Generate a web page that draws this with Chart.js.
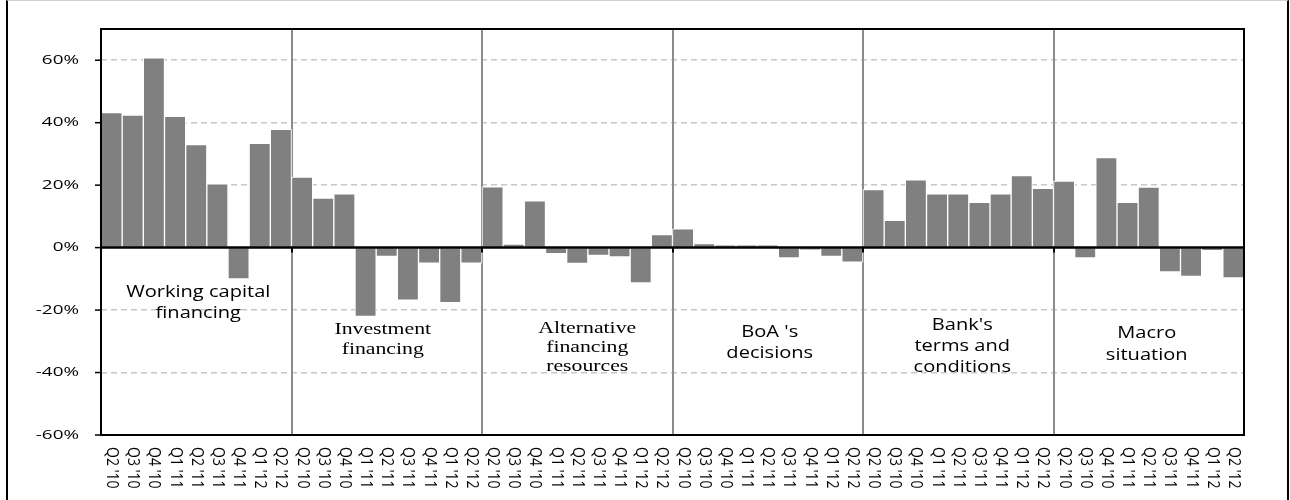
<!DOCTYPE html>
<html>
<head>
<meta charset="utf-8">
<script src="https://cdn.jsdelivr.net/npm/chart.js@4.4.1/dist/chart.umd.min.js"></script>
<style>
	body { margin: 0; background: #fff; }
	#wrap {
		position: absolute; left: 6px; top: 0;
		width: 1279px; height: 499px;
		border-left: 2px solid #000; border-right: 2px solid #000;
		border-top: 1px solid #d0d0d0;
	}
</style>
</head>
<body>
<div id="wrap"><canvas id="graficoFatores"></canvas></div>
<script>
// quarters inside every group
var quarters = ["Q2 '10", "Q3 '10", "Q4 '10", "Q1 '11", "Q2 '11", "Q3 '11", "Q4 '11", "Q1 '12", "Q2 '12"];

// group names (one line per entry)
var groupNames = [
	["Working capital", "financing"],
	["Investment", "financing"],
	["Alternative", "financing", "resources"],
	["BoA 's", "decisions"],
	["Bank's", "terms and", "conditions"],
	["Macro", "situation"]
];

// values in %
var workingCapital = [43.2, 42.4, 60.8, 42.0, 33.0, 20.4, -10.0, 33.4, 37.9];
var investment     = [22.6, 15.9, 17.2, -22.0, -2.8, -16.8, -5.0, -17.6, -5.0];
var alternative    = [19.5, 1.1, 15.0, -1.9, -5.1, -2.5, -3.0, -11.3, 4.2];
var boaDecisions   = [6.0, 1.3, 0.9, 0.9, 0.9, -3.3, -0.8, -2.8, -4.7];
var bankTerms      = [18.6, 8.7, 21.7, 17.2, 17.2, 14.5, 17.2, 23.1, 19.0];
var macroSituation = [21.3, -3.3, 28.8, 14.5, 19.4, -7.8, -9.2, -1.0, -9.7];

var yTicks = [-60, -40, -20, 0, 20, 40, 60];

// where the group notes sit: first line (in % of the y axis), line height, font
var noteStyle = [
	{ y: -14.4, lh: 21, serif: false, dx: 2 },
	{ y: -26.3, lh: 20, serif: true, dx: -4 },
	{ y: -26.0, lh: 19, serif: true, dx: 10 },
	{ y: -27.0, lh: 21, serif: false, dx: 2 },
	{ y: -24.7, lh: 21, serif: false, dx: 4 },
	{ y: -27.3, lh: 22, serif: false, dx: -2 }
];

var allSeries = [workingCapital, investment, alternative, boaDecisions, bankTerms, macroSituation];
var labels = [];
var valores = [];
var $each = function (arr, fn) { for (var i = 0; i < arr.length; i++) fn(i, arr[i]); };
$each(allSeries, function (g, serie) {
	$each(serie, function (i, v) {
		labels.push(quarters[i]);
		valores.push(v);
	});
});

function stretchText(ctx, text, x, y, sx) {
	ctx.save();
	ctx.translate(x, y);
	ctx.scale(sx, 1);
	ctx.fillText(text, 0, 0);
	ctx.restore();
}

var desenhos = {
	id: 'desenhos',
	beforeDatasetsDraw: function (chart) {
		var ctx = chart.ctx, a = chart.chartArea, xs = chart.scales.x;
		ctx.save();
		ctx.strokeStyle = '#8c8c8c';
		ctx.lineWidth = 2;
		for (var g = 1; g < groupNames.length; g++) {
			var k = g * quarters.length;
			var x = Math.round((xs.getPixelForValue(k - 1) + xs.getPixelForValue(k)) / 2);
			ctx.beginPath();
			ctx.moveTo(x, a.top);
			ctx.lineTo(x, a.bottom);
			ctx.stroke();
		}
		ctx.restore();
	},
	afterDatasetsDraw: function (chart) {
		var ctx = chart.ctx, a = chart.chartArea, xs = chart.scales.x, ys = chart.scales.y;
		var y0 = ys.getPixelForValue(0);
		ctx.save();
		ctx.fillStyle = '#000';
		ctx.strokeStyle = '#000';

		// zero line
		ctx.lineWidth = 2.5;
		ctx.beginPath();
		ctx.moveTo(a.left, y0);
		ctx.lineTo(a.right, y0);
		ctx.stroke();

		// small ticks on the zero line at group borders
		ctx.lineWidth = 2;
		for (var g = 0; g <= groupNames.length; g++) {
			var x;
			if (g == 0) x = a.left;
			else if (g == groupNames.length) x = a.right;
			else {
				var k = g * quarters.length;
				x = Math.round((xs.getPixelForValue(k - 1) + xs.getPixelForValue(k)) / 2);
			}
			ctx.beginPath();
			ctx.moveTo(x, y0);
			ctx.lineTo(x, y0 + 5);
			ctx.stroke();
		}

		// plot frame
		ctx.lineWidth = 2;
		ctx.strokeRect(a.left, a.top, a.right - a.left, a.bottom - a.top);

		// y ticks and labels
		ctx.font = '13px "Open Sans"';
		ctx.textAlign = 'right';
		ctx.textBaseline = 'middle';
		ctx.lineWidth = 1.5;
		$each(yTicks, function (i, v) {
			var y = ys.getPixelForValue(v);
			ctx.beginPath();
			ctx.moveTo(a.left - 6, y);
			ctx.lineTo(a.left, y);
			ctx.stroke();
			stretchText(ctx, v + '%', a.left - 22, y, 1.45);
		});

		// x labels, rotated downwards
		ctx.font = '14px "Open Sans"';
		ctx.textAlign = 'left';
		ctx.textBaseline = 'middle';
		$each(labels, function (i, lab) {
			var x = xs.getPixelForValue(i);
			ctx.save();
			ctx.translate(x, a.bottom + 12);
			ctx.rotate(Math.PI / 2);
			ctx.scale(1, 1.15);
			ctx.fillText(lab, 0, 0);
			ctx.restore();
		});

		// group notes
		ctx.textAlign = 'center';
		$each(groupNames, function (g, linhas) {
			var st = noteStyle[g];
			var k = g * quarters.length;
			var cx = (xs.getPixelForValue(k) + xs.getPixelForValue(k + quarters.length - 1)) / 2 + st.dx;
			var y = ys.getPixelForValue(st.y);
			ctx.font = st.serif ? '16px "Liberation Serif"' : '17px "Open Sans"';
			$each(linhas, function (j, t) {
				stretchText(ctx, t, cx, y + j * st.lh, st.serif ? 1.36 : 1.18);
			});
		});
		ctx.restore();
	}
};

var configFatores = {
	type: 'bar',
	data: {
		labels: labels,
		datasets: [
			{
				data: valores,
				backgroundColor: '#808080',
				borderColor: '#ffffff',
				borderWidth: 1,
				barPercentage: 1,
				categoryPercentage: 1,
			},
		],
	},
	options: {
		responsive: true,
		maintainAspectRatio: false,
		animation: false,
		layout: {
			padding: { top: 28, right: 43, left: 0, bottom: 0 },
		},
		plugins: {
			legend: { display: false },
			tooltip: { enabled: false },
		},
		scales: {
			x: {
				grid: { display: false },
				border: { display: false },
				ticks: { display: false },
				afterFit: function (s) { s.height = 65; },
			},
			y: {
				min: -60,
				max: 70,
				ticks: { display: false, stepSize: 20 },
				border: { display: false, dash: [6, 4] },
				grid: {
					drawTicks: false,
					lineWidth: 1.5,
					color: function (c) {
						var v = c.tick ? c.tick.value : null;
						return (v === 0 || v === -60 || v === 70) ? 'rgba(0,0,0,0)' : '#c8c8c8';
					},
				},
				afterFit: function (s) { s.width = 93; },
			},
		},
	},
	plugins: [desenhos],
};

var ctx = document.getElementById('graficoFatores').getContext('2d');
window.graficoFatores = new Chart(ctx, configFatores);
</script>
</body>
</html>
